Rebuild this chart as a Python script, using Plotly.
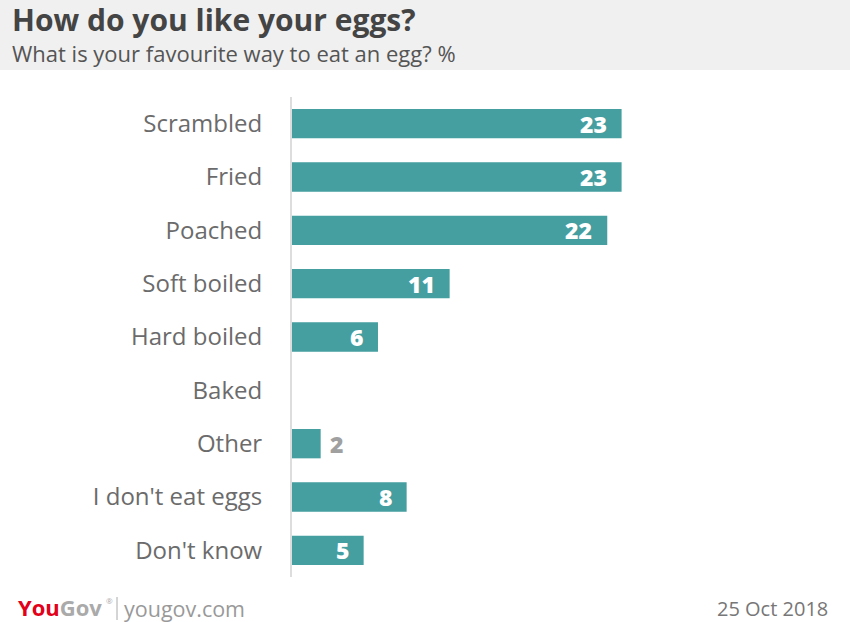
import plotly.graph_objects as go

categories = ["Scrambled", "Fried", "Poached", "Soft boiled", "Hard boiled",
              "Baked", "Other", "I don't eat eggs", "Don't know"]
values = [23, 23, 22, 11, 6, 0, 2, 8, 5]
labels = ["23", "23", "22", "11", "6", "", "2", "8", "5"]
inside = [True, True, True, True, True, None, False, True, True]

BAR = "#459e9f"
W, H = 850, 622
L, R, T, B = 292, 58, 97, 45
pw, ph = W - L - R, H - T - B

fig = go.Figure(go.Bar(
    y=categories, x=values, orientation="h",
    marker=dict(color=BAR, line=dict(width=0)),
    width=0.55, hoverinfo="skip",
))

ann = []
for c, v, t, ins in zip(categories, values, labels, inside):
    if not t:
        continue
    if ins:
        ann.append(dict(x=v, y=c, xref="x", yref="y", text=t, showarrow=False,
                        xanchor="right", xshift=-13,
                        font=dict(family="Open Sans", size=23, color="white", weight=800)))
    else:
        ann.append(dict(x=v, y=c, xref="x", yref="y", text=t, showarrow=False,
                        xanchor="left", xshift=7,
                        font=dict(family="Open Sans", size=23, color="#a0a0a0", weight=800)))

def px_x(x):
    return (x - L) / pw

def px_y(y):
    return (H - B - y) / ph

ann += [
    dict(x=px_x(10), y=px_y(19.5), xref="paper", yref="paper", xanchor="left", yanchor="middle",
         text="<b>How do you like your eggs?</b>", showarrow=False,
         font=dict(family="Open Sans", size=30, color="#444444")),
    dict(x=px_x(10), y=px_y(53), xref="paper", yref="paper", xanchor="left", yanchor="middle",
         text="What is your favourite way to eat an egg? %", showarrow=False,
         font=dict(family="Open Sans", size=22, color="#555555")),
    dict(x=px_x(16), y=px_y(607), xref="paper", yref="paper", xanchor="left", yanchor="middle",
         text="<b><span style='color:#e2001a'>You</span><span style='color:#aaaaaa'>Gov</span></b>",
         showarrow=False, font=dict(family="Open Sans", size=22, color="#aaaaaa")),
    dict(x=px_x(104), y=px_y(600), xref="paper", yref="paper", xanchor="left", yanchor="middle",
         text="®", showarrow=False, font=dict(family="Open Sans", size=8, color="#aaaaaa")),
    dict(x=px_x(122), y=px_y(608), xref="paper", yref="paper", xanchor="left", yanchor="middle",
         text="yougov.com", showarrow=False,
         font=dict(family="Open Sans", size=21.5, color="#999999")),
    dict(x=px_x(830), y=px_y(608), xref="paper", yref="paper", xanchor="right", yanchor="middle",
         text="25 Oct 2018", showarrow=False,
         font=dict(family="Open Sans", size=20, color="#777777")),
]

shapes = [
    dict(type="rect", xref="paper", yref="paper", x0=px_x(-5), x1=px_x(W + 5), y0=px_y(70), y1=px_y(-5),
         fillcolor="#f0f0f0", line=dict(width=0), layer="below"),
    dict(type="line", xref="paper", yref="paper", x0=px_x(117), x1=px_x(117), y0=px_y(597), y1=px_y(620),
         line=dict(color="#aaaaaa", width=1)),
]

fig.update_layout(
    width=W, height=H, margin=dict(l=L, r=R, t=T, b=B),
    paper_bgcolor="white", plot_bgcolor="white",
    showlegend=False, annotations=ann, shapes=shapes,
    xaxis=dict(range=[0, pw / 14.33], visible=False, fixedrange=True),
    yaxis=dict(autorange="reversed", showgrid=False, zeroline=False,
               showline=True, linecolor="#dddddd", linewidth=2,
               ticks="", ticklabelstandoff=23, fixedrange=True,
               tickfont=dict(family="Open Sans", size=24, color="#6b6b6b")),
    bargap=0.45,
)

fig.write_html("out.html", config={"displayModeBar": False},
               post_script="document.body.style.margin='0';")
